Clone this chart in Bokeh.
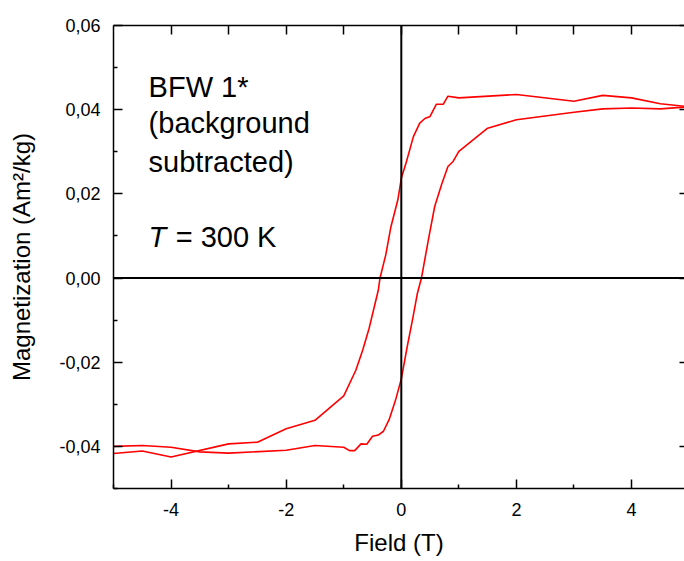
from bokeh.plotting import figure
from bokeh.models import (Range1d, LinearAxis, FixedTicker, CustomJSTickFormatter,
                          Span, Label)
from bokeh.embed import file_html
from bokeh.resources import INLINE

# ---- data ----
field_down = [5.0, 4.5, 4.0, 3.5, 3.0, 2.0, 1.0, 0.81, 0.73, 0.61, 0.5, 0.41, 0.32,
              0.21, 0.09, 0.0, -0.06, -0.18, -0.27, -0.37, -0.4, -0.56, -0.67, -0.79,
              -1.0, -1.5, -2.0, -2.5, -3.0, -4.0, -4.5, -5.0]
mag_down = [0.0407, 0.0414, 0.0428, 0.0434, 0.0420, 0.0436, 0.0428, 0.0432, 0.0413,
            0.0413, 0.0384, 0.0379, 0.0368, 0.0336, 0.0277, 0.0237, 0.0186, 0.0122,
            0.0055, 0.0, -0.0029, -0.0120, -0.0171, -0.0219, -0.0280, -0.0338,
            -0.0358, -0.0390, -0.0394, -0.0425, -0.0411, -0.0417]

field_up = [-5.0, -4.5, -4.0, -3.5, -3.0, -2.0, -1.5, -1.0, -0.9, -0.81, -0.7, -0.6,
            -0.5, -0.4, -0.31, -0.21, -0.1, 0.0, 0.1, 0.2, 0.28, 0.35, 0.48, 0.58,
            0.7, 0.81, 0.9, 1.0, 1.5, 2.0, 3.0, 3.5, 4.0, 4.5, 5.0]
mag_up = [-0.0400, -0.0398, -0.0402, -0.0413, -0.0416, -0.0409, -0.0398, -0.0402,
          -0.0410, -0.0410, -0.0394, -0.0395, -0.0376, -0.0373, -0.0364, -0.0336,
          -0.0290, -0.0240, -0.0165, -0.0095, -0.0036, 0.0, 0.0098, 0.0170, 0.0222,
          0.0265, 0.0277, 0.0301, 0.0356, 0.0376, 0.0394, 0.0402, 0.0404, 0.0402,
          0.0407]

x_major_ticks = [-4, -2, 0, 2, 4]
x_minor_ticks = [-5, -3, -1, 1, 3, 5]
x_top_ticks = [-4, -3, -2, -1, 0, 1, 2, 3, 4]
y_major_ticks = [-0.04, -0.02, 0.0, 0.02, 0.04, 0.06]
y_minor_ticks = [-0.05, -0.03, -0.01, 0.01, 0.03, 0.05]

title_lines = ["BFW 1*", "(background", "subtracted)"]
temp_symbol = "T"
temp_text = "= 300 K"

FONT = "Liberation Sans"

p = figure(frame_width=571, frame_height=463,
           x_range=Range1d(-5, 4.92), y_range=Range1d(-0.05, 0.06),
           output_backend="svg", toolbar_location=None,
           min_border_left=113, min_border_top=25, min_border_bottom=60,
           min_border_right=0, x_axis_type=None, y_axis_type=None)
p.outline_line_color = None
p.grid.visible = False
p.background_fill_color = "white"
p.border_fill_color = "white"

comma_fmt = CustomJSTickFormatter(code="""
    if (Math.abs(tick) < 1e-9) { return '0,00'; }
    return tick.toFixed(2).replace('.', ',');
""")
int_fmt = CustomJSTickFormatter(code="return String(Math.round(tick));")
empty_fmt = CustomJSTickFormatter(code="return '';")

def style(ax, major_in, minor_in, font_size):
    ax.axis_line_width = 1.5
    ax.axis_line_color = "black"
    ax.major_tick_in = major_in
    ax.major_tick_out = 0
    ax.minor_tick_in = minor_in
    ax.minor_tick_out = 0
    ax.major_tick_line_width = 1.5
    ax.minor_tick_line_width = 1.5
    ax.major_label_text_font = FONT
    ax.major_label_text_font_size = font_size
    ax.major_label_text_color = "black"
    ax.axis_label_text_font = FONT
    ax.axis_label_text_font_size = "24px"
    ax.axis_label_text_font_style = "normal"
    ax.axis_label_text_color = "black"

xb = LinearAxis(ticker=FixedTicker(ticks=x_major_ticks, minor_ticks=x_minor_ticks),
                formatter=int_fmt, axis_label="Field (T)")
style(xb, 9, 4, "18px")
xb.major_label_standoff = 14
xb.axis_label_standoff = 10
p.add_layout(xb, "below")

yl = LinearAxis(ticker=FixedTicker(ticks=y_major_ticks, minor_ticks=y_minor_ticks),
                formatter=comma_fmt, axis_label="Magnetization (Am²/kg)")
style(yl, 9, 4, "18px")
yl.major_label_standoff = 13
yl.axis_label_standoff = 21
p.add_layout(yl, "left")

xt = LinearAxis(ticker=FixedTicker(ticks=x_top_ticks, minor_ticks=[]),
                formatter=empty_fmt)
style(xt, 9, 0, "0px")
xt.major_label_standoff = 0
p.add_layout(xt, "above")

yr = LinearAxis(ticker=FixedTicker(ticks=y_major_ticks, minor_ticks=[]),
                formatter=empty_fmt)
style(yr, 5, 0, "0px")
yr.axis_line_color = None
yr.major_label_standoff = 0
p.add_layout(yr, "right")

p.add_layout(Span(location=0, dimension="width", line_color="black", line_width=2))
p.add_layout(Span(location=0, dimension="height", line_color="black", line_width=2))

p.line(field_down, mag_down, line_color="#ff0000", line_width=1.6)
p.line(field_up, mag_up, line_color="#ff0000", line_width=1.6)

label_y = [0.0455, 0.0368, 0.0275]
for txt, yy in zip(title_lines, label_y):
    p.add_layout(Label(x=-4.39, y=yy, text=txt, text_font=FONT, text_font_size="29px",
                       text_color="black", text_baseline="alphabetic"))
p.add_layout(Label(x=-4.39, y=0.0097, text=temp_symbol, text_font=FONT,
                   text_font_size="29px", text_font_style="italic",
                   text_color="black", text_baseline="alphabetic"))
p.add_layout(Label(x=-3.92, y=0.0097, text=temp_text, text_font=FONT,
                   text_font_size="29px", text_color="black",
                   text_baseline="alphabetic"))

open("out.html", "w").write(file_html(p, INLINE))
